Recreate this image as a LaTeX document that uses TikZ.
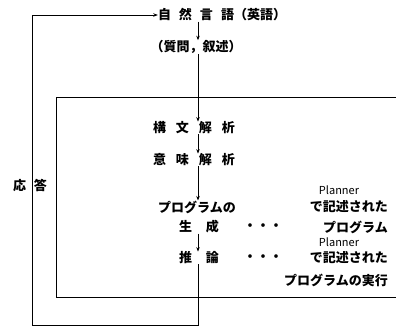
\documentclass[tikz,border=0pt]{standalone}
\usepackage{fontspec}
\newfontfamily\jp{Noto Sans CJK JP}
\usetikzlibrary{arrows.meta}
\begin{document}
\begin{tikzpicture}[x=1pt,y=-1pt,
  font=\jp\bfseries\fontsize{13}{15}\selectfont,
  lbl/.style={inner sep=0pt, anchor=center},
  latin/.style={lbl, font=\jp\mdseries\fontsize{11}{13}\selectfont},
  conn/.style={line width=0.8pt},
  arr/.style={conn,-{Stealth[length=4.5pt,width=3.5pt]}}]
\useasboundingbox (0,0) rectangle (396,333);
% texts
\node[lbl] (nl) at (222,15) {自\hspace{8pt}然\hspace{8pt}言\hspace{8pt}語（英語）};
\node[lbl] (qd) at (196,47) {（質問，叙述）};
\node[lbl] (syn) at (194,128) {構\hspace{10pt}文\hspace{10pt}解\hspace{10pt}析};
\node[lbl] (sem) at (194,160) {意\hspace{10pt}味\hspace{10pt}解\hspace{10pt}析};
\node[lbl] (gen1) at (197,207) {プログラムの};
\node[lbl] (gen2) at (199,227) {生\hspace{14pt}成};
\node[lbl] (inf) at (199,258) {推\hspace{14pt}論};
\node[lbl] (resp) at (30,185) {応\hspace{8pt}答};
\node[latin] (pl1) at (339,190) {Planner};
\node[lbl,anchor=east] (wr1) at (388,207) {で記述された};
\node[lbl,anchor=east] (pg1) at (388,227) {プログラム};
\node[lbl] (dots1) at (263,227) {・・・};
\node[latin] (pl2) at (339,242) {Planner};
\node[lbl,anchor=east] (wr2) at (388,258) {で記述された};
\node[lbl,anchor=east] (ex2) at (388,280) {プログラムの実行};
\node[lbl] (dots2) at (263,258) {・・・};
% spine
\coordinate (sp) at (198,0);
\coordinate (bl) at (32,325);
\draw[arr] (nl.south -| sp) -- (qd.north -| sp);
\draw[arr] (qd.south -| sp) -- (syn.north -| sp);
\draw[arr] (syn.south -| sp) -- (sem.north -| sp);
\draw[arr] (sem.south -| sp) -- (gen1.north -| sp);
\draw[arr] (gen2.south -| sp) -- (inf.north -| sp);
\draw[arr] (inf.south -| sp) |- (bl) |- (nl.west);
% inner frame
\draw[conn] (396,97) -- (56,97) -- (56,297) -- (396,297);
\end{tikzpicture}
\end{document}
